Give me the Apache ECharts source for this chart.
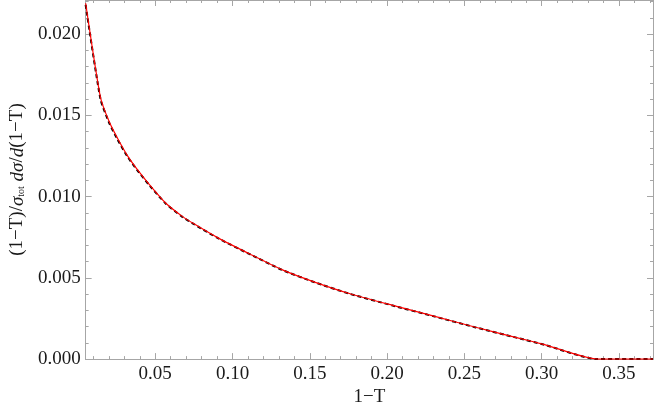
<!DOCTYPE html>
<html><head><meta charset="utf-8">
<script src="https://cdn.jsdelivr.net/npm/echarts@6/dist/echarts.min.js"></script>
<style>html,body{margin:0;padding:0;background:#fff}#c{width:654px;height:412px}</style>
</head><body><div id="c"></div>
<script>
const tauValues = [0.005, 0.0146, 0.0204, 0.0256, 0.0319, 0.0381, 0.0465, 0.0569, 0.0673, 0.0748, 0.0906, 0.1115, 0.1323, 0.1531, 0.1761, 0.2031, 0.2303, 0.2573, 0.2844, 0.3011, 0.336, 0.372];
const redValues = [0.0219, 0.0161, 0.01457, 0.01359, 0.01254, 0.01171, 0.01071, 0.00959, 0.00880, 0.00834, 0.00746, 0.00645, 0.00549, 0.00474, 0.00402, 0.00332, 0.00264, 0.00196, 0.00131, 0.00091, 0, 0];
const blackValues = [0.0218, 0.0160, 0.01450, 0.01352, 0.01248, 0.01166, 0.01067, 0.00956, 0.00877, 0.00832, 0.00744, 0.00644, 0.00548, 0.00473, 0.00401, 0.00331, 0.00263, 0.00195, 0.00130, 0.00090, 0, 0];
const xMajorTicks = [0.05, 0.10, 0.15, 0.20, 0.25, 0.30, 0.35];
const xMinorTicks = [0.01,0.02,0.03,0.04,0.06,0.07,0.08,0.09,0.11,0.12,0.13,0.14,0.16,0.17,0.18,0.19,0.21,0.22,0.23,0.24,0.26,0.27,0.28,0.29,0.31,0.32,0.33,0.34,0.36,0.37];
const yMajorTicks = [0, 0.005, 0.010, 0.015, 0.020];
const yMinorTicks = [0.001,0.002,0.003,0.004,0.006,0.007,0.008,0.009,0.011,0.012,0.013,0.014,0.016,0.017,0.018,0.019,0.021,0.022];
const xMin = 0.005, xMax = 0.372, yMin = 0, yMax = 0.0221;

const FONT = 'Liberation Serif';
const axisColor = '#a6a6a6';
const txtColor = '#1a1a1a';

function xa(pos, ticks, len, labels, extra) {
  return Object.assign({
    type: 'value', position: pos, min: xMin, max: xMax, gridIndex: 0,
    axisLine: { show: true, onZero: false, lineStyle: { color: axisColor, width: 1 } },
    axisTick: { show: true, inside: true, length: len, customValues: ticks, lineStyle: { color: axisColor } },
    axisLabel: labels ? { customValues: ticks, formatter: v => v.toFixed(2), fontFamily: FONT, fontSize: 19, color: txtColor, margin: 5 } : { show: false },
    splitLine: { show: false }
  }, extra || {});
}
function ya(pos, ticks, len, labels, extra) {
  return Object.assign({
    type: 'value', position: pos, min: yMin, max: yMax, gridIndex: 0,
    axisLine: { show: true, onZero: false, lineStyle: { color: axisColor, width: 1 } },
    axisTick: { show: true, inside: true, length: len, customValues: ticks, lineStyle: { color: axisColor } },
    axisLabel: labels ? { customValues: ticks, formatter: v => v.toFixed(3), fontFamily: FONT, fontSize: 19, color: txtColor, margin: 5 } : { show: false },
    splitLine: { show: false }
  }, extra || {});
}

const chart = echarts.init(document.getElementById('c'), null, { renderer: 'canvas' });
chart.setOption({
  animation: false,
  backgroundColor: '#fff',
  grid: { left: 67, right: 1, top: 0, bottom: 49, containLabel: false },
  xAxis: [
    xa('bottom', xMajorTicks, 6, true, {
      name: '1−T', nameLocation: 'middle', nameGap: 27,
      nameTextStyle: { fontFamily: FONT, fontSize: 19, color: txtColor }
    }),
    xa('bottom', xMinorTicks, 3, false),
    xa('top', xMajorTicks, 6, false),
    xa('top', xMinorTicks, 3, false)
  ],
  yAxis: [
    ya('left', yMajorTicks, 6, true, {
      name: '{n|(1−T)/}{i|σ}{s|tot}{n| }{i|dσ}{n|/}{i|d}{n|(1−T)}',
      nameLocation: 'middle', nameGap: 44, nameRotate: 90,
      nameTextStyle: {
        fontFamily: FONT, fontSize: 19, color: txtColor,
        rich: {
          n: { fontFamily: FONT, fontSize: 19, color: txtColor },
          i: { fontFamily: FONT, fontSize: 19, fontStyle: 'italic', color: txtColor },
          s: { fontFamily: FONT, fontSize: 10, color: txtColor, padding: [8, 0, 0, 0] }
        }
      }
    }),
    ya('left', yMinorTicks, 3, false),
    ya('right', yMajorTicks, 6, false),
    ya('right', yMinorTicks, 3, false)
  ],
  series: [
    {
      type: 'line', xAxisIndex: 0, yAxisIndex: 0, showSymbol: false, smooth: 0.2,
      data: tauValues.map((x, i) => [x, blackValues[i]]),
      lineStyle: { color: '#000', width: 2, type: [4, 3] }, z: 2
    },
    {
      type: 'line', xAxisIndex: 0, yAxisIndex: 0, showSymbol: false, smooth: 0.2,
      data: tauValues.map((x, i) => [x, redValues[i]]),
      lineStyle: { color: '#ff0000', width: 1.2 }, z: 3
    }
  ]
});
</script></body></html>
